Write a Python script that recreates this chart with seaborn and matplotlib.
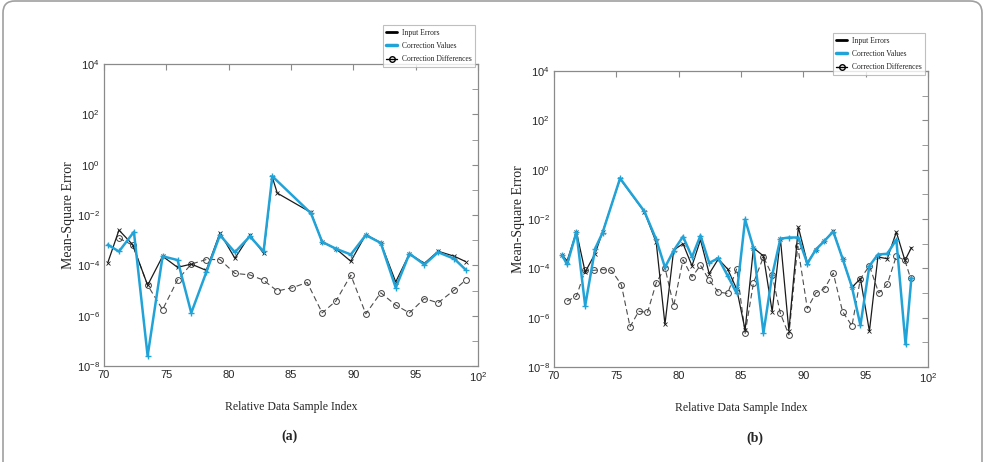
import matplotlib
matplotlib.use('Agg')
import matplotlib.pyplot as plt
import numpy as np
import seaborn as sns
from matplotlib.lines import Line2D
from matplotlib.patches import FancyBboxPatch
from matplotlib.ticker import NullFormatter

# values as log10(mean-square error)

# panel (a)
a_input_x = [70.3, 71.2, 72.3, 73.5, 74.7, 75.9, 77.0, 78.2, 79.3, 80.5, 81.7, 82.8, 83.5,
             83.9, 86.6, 87.5, 88.6, 89.8, 91.0, 92.2, 93.4, 94.5, 95.7, 96.8, 98.1, 99.0]
a_input_log = [-3.9, -2.6, -3.18, -4.79, -3.64, -4.08, -3.95, -4.2, -2.71, -3.72, -2.8, -3.52, -0.5,
               -1.13, -1.9, -3.07, -3.34, -3.84, -2.78, -3.1, -4.66, -3.54, -3.92, -3.44, -3.64, -3.85]
a_corr_x = [70.3, 71.2, 72.4, 73.5, 74.7, 75.9, 77.0, 78.2, 79.3, 80.5, 81.7, 82.8, 83.5,
            86.6, 87.5, 88.6, 89.8, 91.0, 92.2, 93.4, 94.5, 95.7, 96.8, 98.1, 99.0]
a_corr_log = [-3.18, -3.45, -2.67, -7.6, -3.64, -3.79, -5.89, -4.28, -2.8, -3.48, -2.85, -3.45, -0.46,
              -1.93, -3.07, -3.34, -3.57, -2.8, -3.11, -4.89, -3.54, -3.97, -3.48, -3.74, -4.17]
a_diff_x = [71.2, 72.3, 73.5, 74.7, 75.9, 77.0, 78.2, 79.3, 80.5, 81.7, 82.8, 83.9, 85.1,
            86.3, 87.5, 88.6, 89.8, 91.0, 92.2, 93.4, 94.5, 95.7, 96.8, 98.1, 99.0]
a_diff_log = [-2.92, -3.2, -4.79, -5.76, -4.58, -3.95, -3.77, -3.77, -4.32, -4.38, -4.59, -5.02, -4.89,
              -4.68, -5.89, -5.42, -4.39, -5.93, -5.09, -5.58, -5.89, -5.32, -5.49, -4.98, -4.59]

# panel (b)
b_input_x = [70.65, 71.05, 71.8, 72.5, 73.3, 73.9, 75.3, 77.25, 78.2, 78.9, 79.6, 80.35, 81.07,
             81.75, 82.45, 83.18, 83.93, 84.66, 85.33, 86.0, 86.8, 87.5, 88.16, 88.84, 89.6, 90.32,
             91.0, 91.67, 92.4, 93.15, 93.9, 94.58, 95.3, 95.98, 96.73, 97.46, 98.15, 98.67]
b_input_log = [-3.45, -3.7, -2.52, -4.15, -3.4, -2.52, -0.37, -1.71, -2.95, -6.27, -3.26, -3.0, -3.9,
               -2.84, -4.22, -3.62, -4.03, -4.85, -6.5, -3.17, -3.5, -5.75, -2.8, -6.53, -2.33, -3.78,
               -3.24, -2.9, -2.48, -3.61, -4.77, -4.42, -6.55, -3.54, -3.61, -2.53, -3.68, -3.16]
b_corr_x = [70.65, 71.05, 71.8, 72.5, 73.3, 73.9, 75.3, 77.25, 78.2, 78.9, 79.6, 80.35, 81.07,
            81.75, 82.45, 83.18, 83.93, 84.66, 85.33, 86.0, 86.8, 87.5, 88.16, 88.84, 89.6, 90.32,
            91.0, 91.67, 92.4, 93.15, 93.9, 94.58, 95.3, 95.98, 96.73, 97.46, 98.2, 98.67]
b_corr_log = [-3.47, -3.84, -2.53, -5.52, -3.2, -2.55, -0.35, -1.69, -2.83, -3.96, -3.28, -2.71, -3.54,
              -2.67, -3.78, -3.59, -4.3, -5.02, -2.02, -3.17, -6.62, -4.28, -2.8, -2.75, -2.75, -3.81,
              -3.24, -2.9, -2.51, -3.61, -4.76, -6.31, -3.9, -3.44, -3.41, -2.84, -7.08, -4.38]
b_diff_x = [71.05, 71.8, 72.5, 73.2, 73.9, 74.6, 75.4, 76.1, 76.8, 77.5, 78.2, 78.9, 79.6, 80.35,
            81.07, 81.75, 82.45, 83.18, 83.93, 84.66, 85.33, 86.0, 86.8, 87.5, 88.16, 88.84, 89.55,
            90.32, 91.0, 91.7, 92.4, 93.15, 93.9, 94.58, 95.3, 96.05, 96.73, 97.46, 98.15, 98.6]
b_diff_log = [-5.33, -5.13, -4.08, -4.08, -4.05, -4.08, -4.66, -6.37, -5.74, -5.79, -4.59, -3.97, -5.52,
              -3.65, -4.35, -3.88, -4.48, -4.96, -5.02, -4.01, -6.64, -4.59, -3.54, -4.28, -5.83, -6.7,
              -3.1, -5.63, -5.0, -4.82, -4.19, -5.76, -6.33, -4.42, -3.9, -5.0, -4.65, -3.5, -3.68, -4.4]

legend_labels = ['Input Errors', 'Correction Values', 'Correction Differences']
y_exponents = [-8, -6, -4, -2, 0, 2, 4]
x_ticks = [70, 75, 80, 85, 90, 95, 100]
x_ticklabels = ['70', '75', '80', '85', '90', '95', '$10^{2}$']

sns.set_style('white')
plt.rcParams['font.family'] = ['Liberation Serif', 'DejaVu Serif']
plt.rcParams['mathtext.fontset'] = 'custom'
plt.rcParams['mathtext.rm'] = 'Liberation Sans'
plt.rcParams['mathtext.it'] = 'Liberation Sans:italic'
plt.rcParams['mathtext.bf'] = 'Liberation Sans:bold'

BLUE = '#22a3d8'
GRAY = '#8a8a8a'


def draw_panel(ax, inp_x, inp_log, cor_x, cor_log, dif_x, dif_log):
    sns.lineplot(x=dif_x, y=10.0 ** np.array(dif_log), ax=ax, sort=False, estimator=None,
                 color='0.3', linewidth=0.8, linestyle=(0, (5, 3)),
                 marker='o', markersize=4.2, markerfacecolor='none', markeredgecolor='0.25',
                 markeredgewidth=0.7)
    sns.lineplot(x=inp_x, y=10.0 ** np.array(inp_log), ax=ax, sort=False, estimator=None,
                 color='0.1', linewidth=0.9, marker='x', markersize=3.5,
                 markeredgecolor='0.1', markeredgewidth=0.6)
    sns.lineplot(x=cor_x, y=10.0 ** np.array(cor_log), ax=ax, sort=False, estimator=None,
                 color=BLUE, linewidth=1.8, marker='+', markersize=4.5,
                 markeredgecolor=BLUE, markeredgewidth=1.0)

    ax.set_yscale('log')
    ax.set_ylim(1e-8, 1e4)
    ax.set_xlim(70, 100)
    ax.set_yticks([10.0 ** e for e in y_exponents])
    ax.set_yticklabels(['$10^{%d}$' % e for e in y_exponents])
    ax.set_yticks([10.0 ** e for e in range(-7, 4, 2)], minor=True)
    ax.yaxis.set_minor_formatter(NullFormatter())
    ax.set_xticks(x_ticks)
    ax.set_xticklabels(x_ticklabels, fontfamily='Liberation Sans')
    ax.tick_params(axis='both', which='both', direction='in', top=True, right=True,
                   color=GRAY, labelsize=8, length=4, pad=3)
    for s in ax.spines.values():
        s.set_color(GRAY)
        s.set_linewidth(0.9)

    ax.set_ylabel('Mean-Square Error', fontsize=10, labelpad=1)
    ax.set_xlabel('Relative Data Sample Index', fontsize=8.5, labelpad=12)

    handles = [Line2D([], [], color='black', linewidth=2),
               Line2D([], [], color=BLUE, linewidth=2.5),
               Line2D([], [], color='black', linewidth=1, marker='o', markersize=4,
                      markerfacecolor='none')]
    return handles


fig = plt.figure(figsize=(9.87, 4.62), dpi=100)
W, H = 987.0, 462.0
ax1 = fig.add_axes([104 / W, 1 - 366 / H, 374 / W, 302 / H])
ax2 = fig.add_axes([554 / W, 1 - 367 / H, 374 / W, 296 / H])

h1 = draw_panel(ax1, a_input_x, a_input_log, a_corr_x, a_corr_log, a_diff_x, a_diff_log)
h2 = draw_panel(ax2, b_input_x, b_input_log, b_corr_x, b_corr_log, b_diff_x, b_diff_log)

for ax, h, top in [(ax1, h1, 21), (ax2, h2, 29)]:
    bb = ax.get_position()
    leg = fig.legend(h, legend_labels, loc='upper right',
                     bbox_to_anchor=(bb.x1 + 1 / W, 1 - top / H),
                     fontsize=5.5, frameon=True, fancybox=False, handlelength=1.4,
                     handletextpad=0.6, labelspacing=0.7, borderpad=0.5)
    leg.get_frame().set_edgecolor('#b0b0b0')
    leg.get_frame().set_linewidth(0.8)

fig.text(290 / W, 1 - 436 / H, '(a)', ha='center', va='center', fontsize=10, fontweight='bold')
fig.text(755 / W, 1 - 438 / H, '(b)', ha='center', va='center', fontsize=10, fontweight='bold')

frame = FancyBboxPatch((3 / W, -0.1), 979 / W, 1.1 - 1 / H, boxstyle='round,pad=0,rounding_size=0.012',
                       transform=fig.transFigure, facecolor='none', edgecolor='#a0a0a0',
                       linewidth=1.2, mutation_aspect=W / H, clip_on=False)
fig.patches.append(frame)

fig.savefig('out.png', dpi=100)
